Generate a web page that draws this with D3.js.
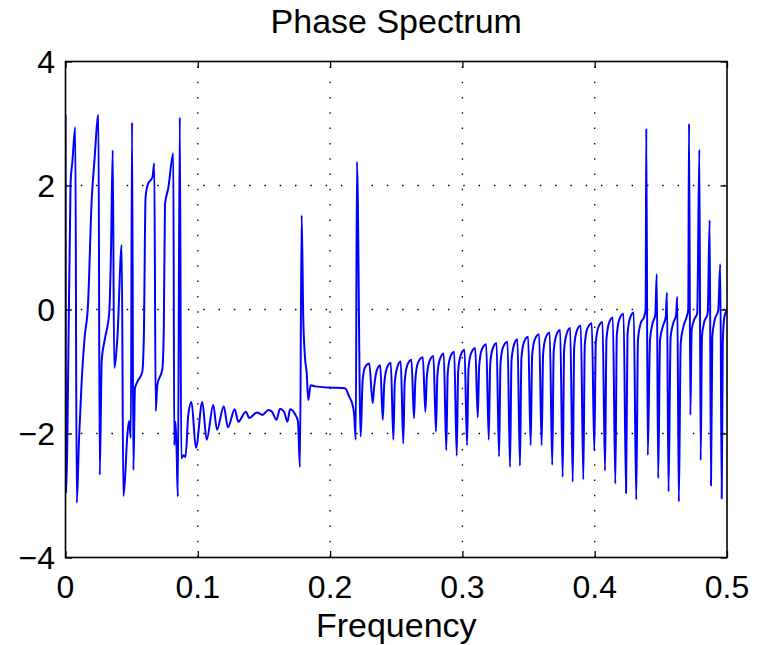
<!DOCTYPE html>
<html><head><meta charset="utf-8">
<script src="https://cdn.jsdelivr.net/npm/d3@7"></script>
<style>body{margin:0;background:#fff}svg{display:block}text{font-family:"Liberation Sans",Arial,Helvetica,sans-serif;fill:#000}</style>
</head><body><svg id="c" width="758" height="645"></svg>
<script>
const title = "Phase Spectrum";
const xLabel = "Frequency";
const xTicks = [0, 0.1, 0.2, 0.3, 0.4, 0.5];
const xTickLabels = ["0", "0.1", "0.2", "0.3", "0.4", "0.5"];
const yTicks = [-4, -2, 0, 2, 4];
const yTickLabels = ["\u22124", "\u22122", "0", "2", "4"];

// [frequency, phase]
const segLow = [
[0.0000,3.14],[0.0005,-2.96],[0.0015,-1.94],[0.0038,2.01],[0.0053,2.41],[0.0074,2.94],[0.0085,-3.12],
[0.0102,-2.10],[0.0122,-1.17],[0.0144,-0.46],[0.0170,0.07],[0.0198,1.77],[0.0219,2.41],[0.0249,3.14],
[0.0259,-2.67],[0.0274,-0.81],[0.0299,-0.46],[0.0331,-0.04],[0.0344,0.96],[0.0357,2.57],[0.0368,-0.94],
[0.0392,-0.46],[0.0425,1.04],[0.0437,-3.01],[0.0450,-2.72],[0.0465,-2.10],[0.0480,-1.80],[0.0494,-2.07],
[0.0503,3.02],[0.0513,-2.59],[0.0525,-1.27],[0.0550,-1.14],[0.0580,-1.01],[0.0592,-0.46],[0.0605,1.80],
[0.0621,2.01],[0.0658,2.14],[0.0671,2.36],[0.0682,-1.64],[0.0694,-1.22],[0.0732,-0.96],[0.0743,-0.33],
[0.0752,1.69],[0.0777,1.96],[0.0815,2.52],[0.0822,-2.19],[0.0831,-1.81],[0.0839,-2.20],[0.0849,-3.02],
[0.0864,3.10],[0.0875,-2.40],[0.0892,-2.35],[0.0907,-2.38],[0.0928,-1.70],[0.0952,-1.49]
];
const segMid = [
[0.0986,-2.23],[0.1034,-1.49],[0.1067,-2.10],[0.1117,-1.54],[0.1145,-1.94],[0.1196,-1.56],[0.1228,-1.90],
[0.1279,-1.61],[0.1306,-1.81],[0.1363,-1.65],[0.1389,-1.75],[0.1447,-1.66],[0.1489,-1.70],[0.1534,-1.62],
[0.1561,-1.65],[0.1595,-1.78],[0.1621,-1.60],[0.1652,-1.65],[0.1678,-1.81],[0.1697,-1.61],[0.1735,-1.69],
[0.1757,-1.80],[0.1772,-2.54],[0.1785,1.52],[0.1797,-0.12],[0.1810,-0.77],[0.1823,-1.02],[0.1835,-1.46],
[0.1853,-1.22],[0.1886,-1.24],[0.1999,-1.26],[0.2113,-1.27],[0.2145,-1.41],[0.2163,-1.49],[0.2181,-1.67],
[0.2194,-2.10],[0.2203,2.38],[0.2231,-2.05],[0.2246,-1.14],[0.2264,-0.93],[0.2296,-0.87]
];
const segComb = [
[0.2322,-1.51],[0.2333,-1.25],[0.2352,-0.99],[0.2379,-0.90],
[0.2398,-1.78],[0.2409,-1.21],[0.2428,-0.95],[0.2459,-0.86],
[0.2478,-2.10],[0.2489,-1.19],[0.2508,-0.93],[0.2534,-0.84],
[0.2553,-2.16],[0.2564,-1.16],[0.2583,-0.90],[0.2615,-0.81],
[0.2634,-1.75],[0.2645,-1.12],[0.2664,-0.86],[0.2701,-0.77],
[0.2720,-1.65],[0.2731,-1.10],[0.2750,-0.84],[0.2781,-0.75],
[0.2800,-1.97],[0.2811,-1.06],[0.2830,-0.80],[0.2859,-0.71],
[0.2878,-2.27],[0.2889,-1.03],[0.2908,-0.77],[0.2938,-0.68],
[0.2957,-2.36],[0.2968,-1.00],[0.2987,-0.74],[0.3016,-0.65],
[0.3035,-2.19],[0.3046,-0.97],[0.3065,-0.71],[0.3097,-0.62],
[0.3116,-1.74],[0.3127,-0.91],[0.3146,-0.65],[0.3180,-0.56],
[0.3199,-2.10],[0.3210,-0.89],[0.3229,-0.63],[0.3258,-0.54],
[0.3277,-2.37],[0.3288,-0.87],[0.3307,-0.61],[0.3341,-0.52],
[0.3360,-2.54],[0.3371,-0.83],[0.3390,-0.57],[0.3416,-0.48],
[0.3435,-2.52],[0.3446,-0.79],[0.3465,-0.53],[0.3497,-0.44],
[0.3516,-2.19],[0.3527,-0.75],[0.3546,-0.49],[0.3580,-0.40],
[0.3599,-2.19],[0.3610,-0.72],[0.3629,-0.46],[0.3660,-0.37],
[0.3679,-2.51],[0.3690,-0.68],[0.3709,-0.42],[0.3739,-0.33],
[0.3758,-2.70],[0.3769,-0.65],[0.3788,-0.39],[0.3815,-0.30],
[0.3834,-2.78],[0.3845,-0.61],[0.3864,-0.35],[0.3895,-0.26],
[0.3914,-2.74],[0.3925,-0.57],[0.3944,-0.31],[0.3978,-0.22],
[0.3997,-2.28],[0.4008,-0.55],[0.4027,-0.29],[0.4059,-0.20],
[0.4078,-2.60],[0.4089,-0.48],[0.4108,-0.22],[0.4137,-0.13],
[0.4156,-2.81],[0.4167,-0.42],[0.4186,-0.16],[0.4218,-0.07],
[0.4237,-2.96],[0.4248,-0.40],[0.4267,-0.14],[0.4295,-0.05]
];
const segHigh = [
[0.4314,-3.07],[0.4327,-0.49],[0.4348,-0.22],[0.4373,-0.12],[0.4385,0.00],[0.4390,2.92],
[0.4401,-2.35],[0.4418,-0.49],[0.4438,-0.22],[0.4458,-0.09],[0.4469,0.57],
[0.4480,-2.72],[0.4494,-0.49],[0.4514,-0.28],[0.4537,-0.12],[0.4546,0.27],
[0.4558,-2.94],[0.4574,-0.44],[0.4594,-0.22],[0.4615,-0.09],[0.4624,0.21],
[0.4636,-3.10],[0.4650,-0.55],[0.4670,-0.28],[0.4695,-0.12],[0.4707,-0.01],[0.4713,3.00],
[0.4723,-1.70],[0.4733,-0.33],[0.4751,-0.17],[0.4775,-0.06],[0.4791,2.58],
[0.4801,-2.43],[0.4811,-0.44],[0.4826,-0.22],[0.4854,-0.06],[0.4869,1.44],
[0.4879,-2.84],[0.4889,-0.44],[0.4907,-0.17],[0.4934,-0.01],[0.4949,0.73],
[0.4960,-3.05],[0.4968,-0.55],[0.4980,-0.12],[0.5000,-0.01]
];
const series = segLow.concat(segMid, segComb, segHigh);

const svg = d3.select("#c");
const L = 65.5, R = 727, T = 61.5, B = 557.5;
const x = d3.scaleLinear().domain([0, 0.5]).range([L, R]);
const y = d3.scaleLinear().domain([-4, 4]).range([B, T]);
const fs = 32, fsT = 34;

svg.append("rect").attr("width", 758).attr("height", 645).attr("fill", "#fff");
svg.append("defs").append("clipPath").attr("id", "clip")
  .append("rect").attr("x", L).attr("y", T).attr("width", R - L).attr("height", B - T);

// grid
const g = svg.append("g").attr("stroke", "#000").attr("stroke-width", 1.3).attr("stroke-dasharray", "1.5,13.8");
xTicks.slice(1, -1).forEach(t => g.append("line").attr("x1", x(t)).attr("x2", x(t)).attr("y1", B).attr("y2", T));
yTicks.slice(1, -1).forEach(t => g.append("line").attr("x1", L).attr("x2", R).attr("y1", y(t)).attr("y2", y(t)));

// data line
svg.append("path").datum(series)
  .attr("clip-path", "url(#clip)")
  .attr("fill", "none").attr("stroke", "#0000ff").attr("stroke-width", 2)
  .attr("stroke-linejoin", "round")
  .attr("d", d3.line().x(d => x(d[0])).y(d => y(d[1])).curve(d3.curveMonotoneX));

// axes box + inward ticks via d3 axes
const tl = 6.5;
const ax = (gen, tr) => svg.append("g").attr("transform", tr).call(gen)
  .call(s => { s.selectAll(".domain").remove(); s.selectAll("text").remove();
               s.selectAll("line").attr("stroke", "#000").attr("stroke-width", 1.3); });
ax(d3.axisBottom(x).tickValues(xTicks).tickSize(-tl), `translate(0,${B})`);
ax(d3.axisTop(x).tickValues(xTicks).tickSize(-tl), `translate(0,${T})`);
ax(d3.axisLeft(y).tickValues(yTicks).tickSize(-tl), `translate(${L},0)`);
ax(d3.axisRight(y).tickValues(yTicks).tickSize(-tl), `translate(${R},0)`);
svg.append("rect").attr("x", L).attr("y", T).attr("width", R - L).attr("height", B - T)
  .attr("fill", "none").attr("stroke", "#000").attr("stroke-width", 1.6);

// tick labels
svg.append("g").selectAll("text").data(xTicks).join("text")
  .attr("x", d => x(d)).attr("y", 598).attr("text-anchor", "middle")
  .attr("font-size", fs).text((d, i) => xTickLabels[i]);
svg.append("g").selectAll("text").data(yTicks).join("text")
  .attr("x", 55).attr("y", d => y(d) + fs * 0.355).attr("text-anchor", "end")
  .attr("font-size", fs).text((d, i) => yTickLabels[i]);

svg.append("text").attr("x", (L + R) / 2).attr("y", 33).attr("text-anchor", "middle")
  .attr("font-size", fsT).text(title);
svg.append("text").attr("x", (L + R) / 2).attr("y", 637).attr("text-anchor", "middle")
  .attr("font-size", fsT).text(xLabel);
</script></body></html>
